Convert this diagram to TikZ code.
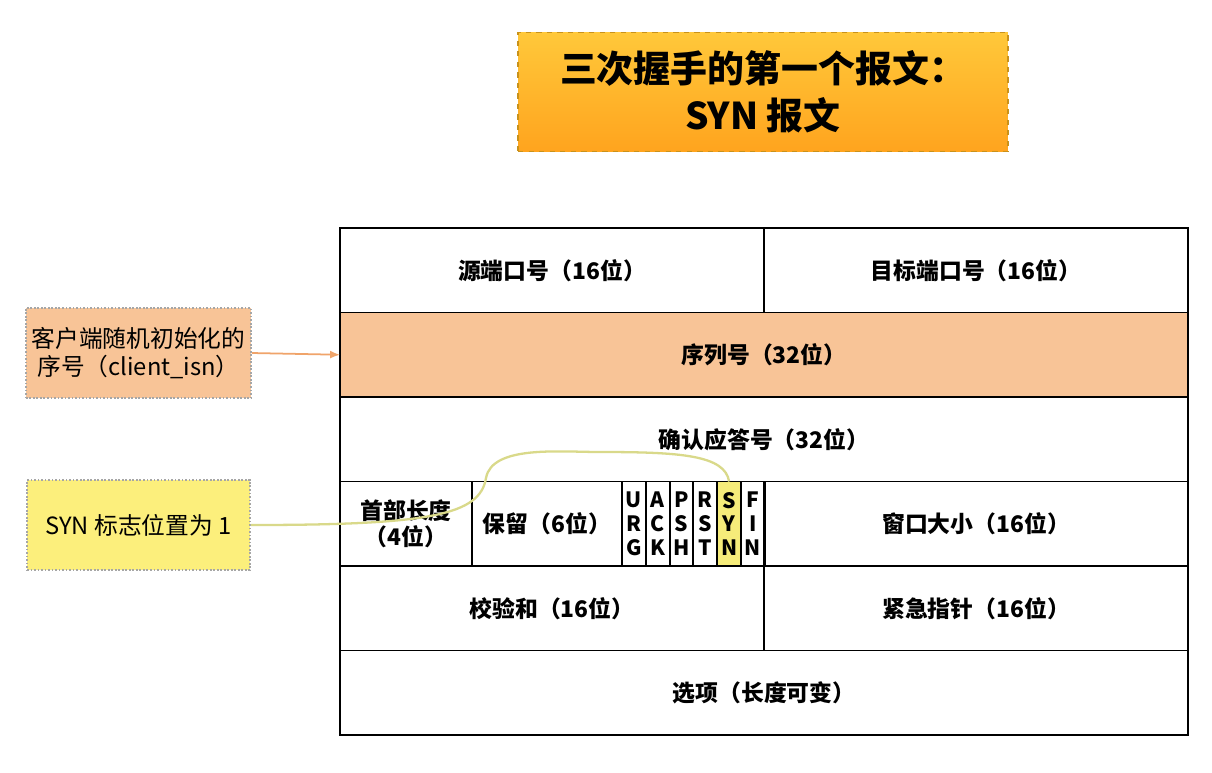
\documentclass[tikz,border=0pt]{standalone}
\usepackage{fontspec}
\setmainfont{Noto Sans CJK SC}
\usetikzlibrary{arrows.meta,positioning}
\definecolor{titletop}{HTML}{FFC83A}
\definecolor{titlebot}{HTML}{FFA41E}
\definecolor{titleline}{HTML}{C9921B}
\definecolor{peach}{HTML}{F8C497}
\definecolor{notey}{HTML}{FCEF7C}
\definecolor{synhl}{HTML}{F6EC7A}
\definecolor{linkline}{HTML}{D9D98A}
\definecolor{seqline}{HTML}{F0A46A}

\begin{document}
\begin{tikzpicture}[
x=0.02cm, y=-0.02cm,
cell/.style={
draw,
line width=1.1pt,
inner sep=0pt,
outer sep=0pt,
minimum height=1.69cm,
font=\fontsize{13}{15}\selectfont\bfseries,
align=center
},
flag/.style={
cell,
minimum width=0.476cm,
font=\fontsize{12}{13.5}\selectfont\bfseries
},
note/.style={
draw=gray!70,
densely dotted,
line width=1pt,
minimum width=4.46cm,
minimum height=1.8cm,
align=center,
font=\fontsize{13.5}{16}\selectfont
},
arrow/.style={-{Latex[length=2mm,width=1.6mm]},seqline,line width=1pt}
]
\useasboundingbox[fill=white] (0,0) rectangle (1212,772);

% title
\node[draw=titleline, dashed, line width=1pt, top color=titletop, bottom color=titlebot,
  minimum width=9.8cm, minimum height=2.38cm, align=center,
  font=\fontsize{21}{27}\selectfont\bfseries] (title) at (763,92)
  {三次握手的第一个报文：\\SYN\ 报文};

% header rows
\node[cell, minimum width=8.48cm] (srcport) at (552,270.25) {源端口号（16位）};
\node[cell, minimum width=8.48cm] (dstport) at (976,270.25) {目标端口号（16位）};
\node[cell, minimum width=16.96cm, fill=peach] (seq) at (764,354.75) {序列号（32位）};
\node[cell, minimum width=16.96cm] (ack) at (764,439.25) {确认应答号（32位）};
\node[cell, minimum width=2.64cm] (hlen) at (406,523.75) {首部长度\\（4位）};
\node[cell, minimum width=3.0cm] (resv) at (547,523.75) {保留（6位）};
\node[flag] (urg) at (633.9,523.75) {U\\R\\G};
\node[flag] (ackf) at (657.7,523.75) {A\\C\\K};
\node[flag] (psh) at (681.5,523.75) {P\\S\\H};
\node[flag] (rst) at (705.3,523.75) {R\\S\\T};
\node[flag, fill=synhl] (syn) at (729.1,523.75) {S\\Y\\N};
\node[flag] (fin) at (752.9,523.75) {F\\I\\N};
\node[cell, minimum width=8.48cm] (window) at (976,523.75) {窗口大小（16位）};
\node[cell, minimum width=8.48cm] (checksum) at (552,608.25) {校验和（16位）};
\node[cell, minimum width=8.48cm] (urgptr) at (976,608.25) {紧急指针（16位）};
\node[cell, minimum width=16.96cm] (options) at (764,692.75) {选项（长度可变）};

% notes
\node[note, fill=peach] (isnnote) at (138.5,353) {客户端随机初始化的\\序号（client\_isn）};
\node[note, fill=notey] (synnote) at (138.5,525) {SYN 标志位置为 1};

% links
\draw[arrow] (isnnote.east) -- (seq.west);
\coordinate (bend) at (486,478);
\coordinate (crest) at (600,452);
\draw[linkline, line width=1.3pt] (synnote.east) .. controls (430,525) and (480,515) .. (bend)
  .. controls (492,445) and (560,452) .. (crest)
  .. controls (680,452) and (725,455) .. (syn.north);

\end{tikzpicture}
\end{document}
